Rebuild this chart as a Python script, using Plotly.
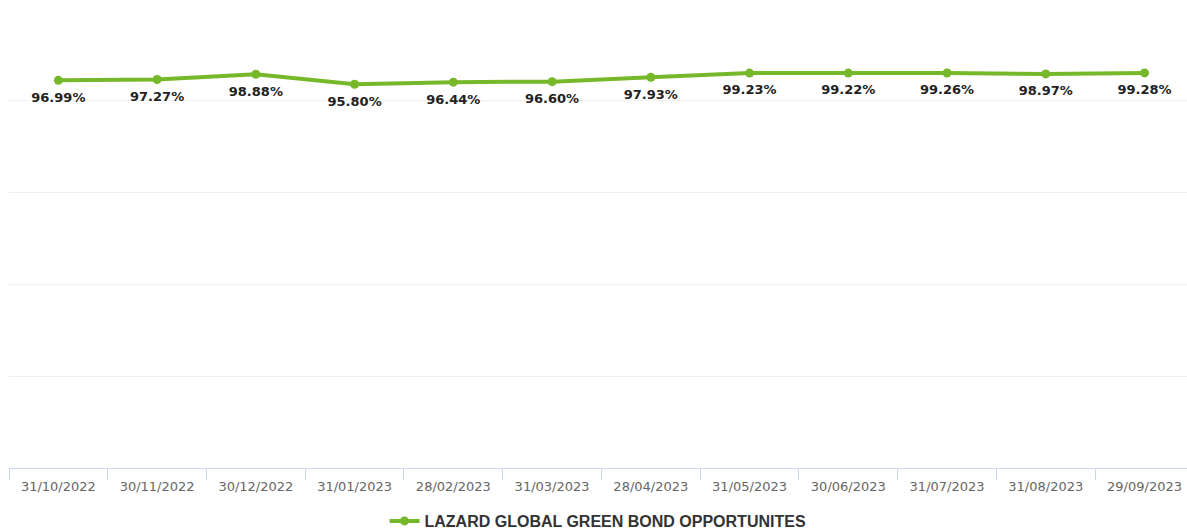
import plotly.graph_objects as go

dates = ["31/10/2022", "30/11/2022", "30/12/2022", "31/01/2023", "28/02/2023", "31/03/2023",
         "28/04/2023", "31/05/2023", "30/06/2023", "31/07/2023", "31/08/2023", "29/09/2023"]
values = [96.99, 97.27, 98.88, 95.80, 96.44, 96.60, 97.93, 99.23, 99.22, 99.26, 98.97, 99.28]
series_name = "LAZARD GLOBAL GREEN BOND OPPORTUNITES"

Y_MIN = -22.3
Y_MAX = 118.9
Y_STEP = (Y_MAX - Y_MIN) / 5

GREEN = "#77b82a"

fig = go.Figure()
fig.add_trace(go.Scatter(
    x=dates,
    y=values,
    mode="lines+markers",
    name=series_name,
    line=dict(color=GREEN, width=4),
    marker=dict(color=GREEN, size=9),
    cliponaxis=False,
))
# data labels (transparent larger marker to push labels a bit lower)
fig.add_trace(go.Scatter(
    x=dates,
    y=values,
    mode="markers+text",
    showlegend=False,
    hoverinfo="skip",
    marker=dict(color="rgba(0,0,0,0)", size=17),
    text=[f"{v:.2f}%" for v in values],
    textposition="bottom center",
    textfont=dict(family="DejaVu Sans", size=13, color="#222222", weight="bold"),
    cliponaxis=False,
))

fig.update_layout(
    width=1187,
    height=532,
    margin=dict(l=9, r=0, t=9, b=64),
    paper_bgcolor="white",
    plot_bgcolor="white",
    showlegend=True,
    legend=dict(
        orientation="h",
        x=0.5, xanchor="center",
        yref="container", y=(532 - 521) / 532, yanchor="middle",
        font=dict(family="Liberation Sans", size=16, color="#333333", weight="bold"),
        itemwidth=30,
    ),
    xaxis=dict(
        type="category",
        range=[-0.5, 11.43],
        showgrid=False,
        showline=True,
        linecolor="#ccd6eb",
        linewidth=1,
        ticks="outside",
        tickson="boundaries",
        ticklen=11,
        tickcolor="#ccd6eb",
        ticklabelstandoff=6,
        tickfont=dict(family="DejaVu Sans", size=13, color="#666666"),
        zeroline=False,
        fixedrange=True,
    ),
    yaxis=dict(
        range=[Y_MIN, Y_MAX + 0.05],
        tick0=Y_MIN,
        dtick=Y_STEP,
        showticklabels=False,
        showgrid=True,
        gridcolor="#f0f0f0",
        gridwidth=1,
        zeroline=False,
        showline=False,
        fixedrange=True,
    ),
)

fig.write_html("out.html", config={"displayModeBar": False})

with open("out.html", "r", encoding="utf-8") as f:
    html = f.read()
html = html.replace("<body>", '<body style="margin:0;padding:0;overflow:hidden;">', 1)
with open("out.html", "w", encoding="utf-8") as f:
    f.write(html)
